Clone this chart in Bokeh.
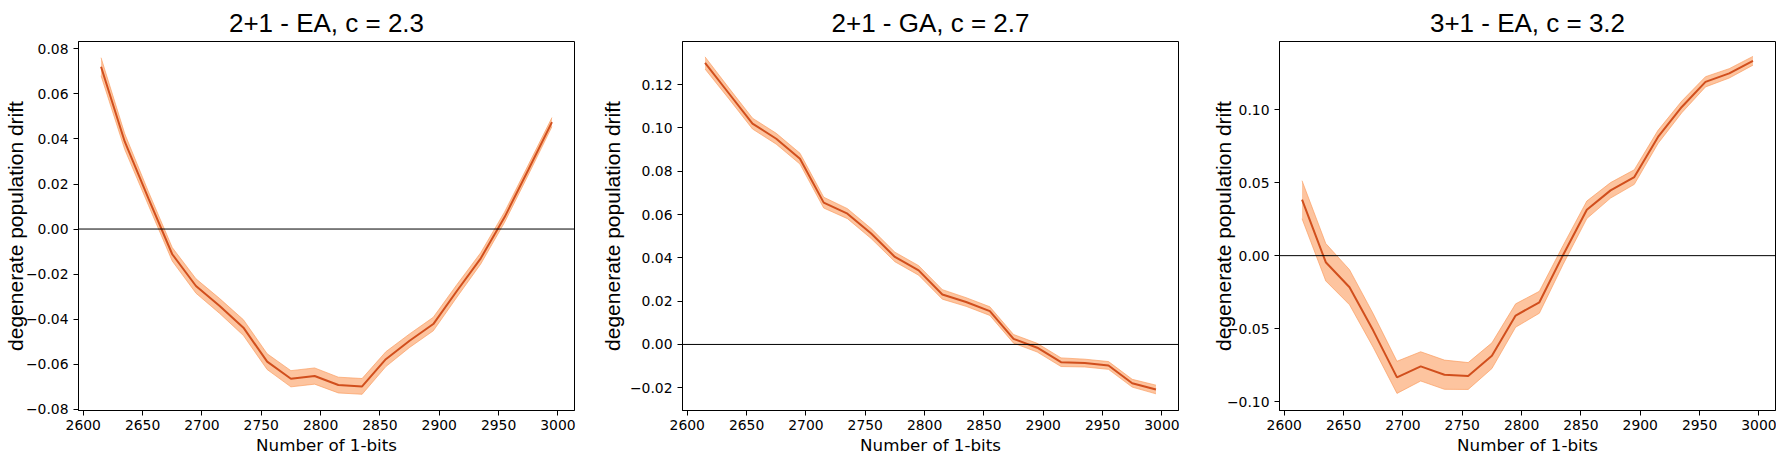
from bokeh.plotting import figure
from bokeh.models import Span, FixedTicker, Range1d
from bokeh.layouts import row
from bokeh.embed import file_html
from bokeh.resources import INLINE

# ---------------- data ----------------
x_bits = [2615, 2635, 2655, 2675, 2695, 2715, 2735, 2755, 2775, 2795,
          2815, 2835, 2855, 2875, 2895, 2915, 2935, 2955, 2975, 2995]

ea21_mean = [0.0721, 0.0388, 0.0135, -0.0112, -0.0253, -0.0342, -0.0438, -0.0589, -0.0665, -0.0653,
             -0.0693, -0.0699, -0.0578, -0.0496, -0.0422, -0.0274, -0.0130, 0.0052, 0.0262, 0.0475]
ea21_half = [0.0040, 0.0035, 0.0030, 0.0030, 0.0032, 0.0033, 0.0035, 0.0035, 0.0036, 0.0036,
             0.0035, 0.0035, 0.0033, 0.0030, 0.0030, 0.0028, 0.0025, 0.0023, 0.0022, 0.0020]

ga21_mean = [0.1300, 0.1160, 0.1020, 0.0950, 0.0858, 0.0655, 0.0604, 0.0512, 0.0404, 0.0342,
             0.0231, 0.0196, 0.0154, 0.0026, -0.0015, -0.0082, -0.0086, -0.0097, -0.0179, -0.0208]
ga21_half = [0.0028, 0.0025, 0.0025, 0.0025, 0.0025, 0.0025, 0.0023, 0.0023, 0.0022, 0.0022,
             0.0022, 0.0020, 0.0020, 0.0020, 0.0020, 0.0020, 0.0018, 0.0018, 0.0018, 0.0020]

ea31_mean = [0.0383, -0.0045, -0.0216, -0.0513, -0.0833, -0.0758, -0.0815, -0.0824, -0.0685, -0.0410,
             -0.0319, 0.0005, 0.0314, 0.0447, 0.0538, 0.0813, 0.1018, 0.1190, 0.1248, 0.1334]
ea31_half = [0.0130, 0.0128, 0.0120, 0.0115, 0.0110, 0.0100, 0.0100, 0.0092, 0.0088, 0.0080,
             0.0075, 0.0065, 0.0060, 0.0053, 0.0050, 0.0045, 0.0040, 0.0035, 0.0032, 0.0030]

titles = ["2+1 - EA, c = 2.3", "2+1 - GA, c = 2.7", "3+1 - EA, c = 3.2"]
x_ticks = [2600, 2650, 2700, 2750, 2800, 2850, 2900, 2950, 3000]
y_ticks_1 = [-0.08, -0.06, -0.04, -0.02, 0.00, 0.02, 0.04, 0.06, 0.08]
y_ticks_2 = [-0.02, 0.00, 0.02, 0.04, 0.06, 0.08, 0.10, 0.12]
y_ticks_3 = [-0.10, -0.05, 0.00, 0.05, 0.10]
x_label = "Number of 1-bits"
y_label = "degenerate population drift"

LINE = "#d14f1d"
BAND = "#fb9a5a"
TICK_FONT = "DejaVu Sans"
HEAD_FONT = "Liberation Sans"


def fmt(v):
    s = "%.2f" % v
    if v < 0:
        s = "\u2212" + s[1:]
    return s


def panel(title, mean, half, yr, yticks, left, right, lab_standoff):
    p = figure(frame_width=496, frame_height=369,
               min_border_left=left, min_border_right=right,
               min_border_top=41, min_border_bottom=44,
               x_range=Range1d(2596, 3014), y_range=Range1d(*yr),
               output_backend="svg", toolbar_location=None)
    p.title.text = title
    p.title.text_font = HEAD_FONT
    p.title.text_font_size = "26px"
    p.title.text_font_style = "normal"
    p.title.text_color = "black"
    p.title.align = "center"
    p.title.standoff = 8

    lower = [m - h for m, h in zip(mean, half)]
    upper = [m + h for m, h in zip(mean, half)]
    p.varea(x=x_bits, y1=lower, y2=upper, fill_color=BAND, fill_alpha=0.58)
    p.line(x=x_bits, y=lower, line_color=BAND, line_alpha=0.65, line_width=1)
    p.line(x=x_bits, y=upper, line_color=BAND, line_alpha=0.65, line_width=1)
    p.line(x=x_bits, y=mean, line_color=LINE, line_width=2)

    p.add_layout(Span(location=0, dimension="width", line_color="black", line_width=1))

    p.grid.visible = False
    p.outline_line_color = "black"
    p.outline_line_alpha = 1
    p.outline_line_width = 1

    p.xaxis.ticker = FixedTicker(ticks=x_ticks)
    p.yaxis.ticker = FixedTicker(ticks=yticks)
    p.yaxis.major_label_overrides = {t: fmt(t) for t in yticks}
    p.xaxis.axis_label = x_label
    p.yaxis.axis_label = y_label
    for ax in (p.xaxis, p.yaxis):
        ax.axis_line_color = "black"
        ax.major_tick_line_color = "black"
        ax.major_tick_out = 5
        ax.major_tick_in = 0
        ax.minor_tick_line_color = None
        ax.major_label_text_font = TICK_FONT
        ax.major_label_text_font_size = "13.9px"
        ax.major_label_text_color = "black"
        ax.axis_label_text_font_style = "normal"
        ax.axis_label_text_color = "black"
    p.xaxis.axis_label_text_font = TICK_FONT
    p.xaxis.axis_label_text_font_size = "16.7px"
    p.yaxis.axis_label_text_font = HEAD_FONT
    p.yaxis.axis_label_text_font_size = "21px"
    p.xaxis.major_label_standoff = 4
    p.xaxis.axis_label_standoff = 2
    p.yaxis.axis_label_standoff = lab_standoff
    return p


p1 = panel(titles[0], ea21_mean, ea21_half, (-0.0806, 0.0833), y_ticks_1, 73, 23, -4)
p2 = panel(titles[1], ga21_mean, ga21_half, (-0.0305, 0.1399), y_ticks_2, 72, 27, 3)
p3 = panel(titles[2], ea31_mean, ea31_half, (-0.106, 0.1466), y_ticks_3, 74, 2, -11)

layout = row(p1, p2, p3)
open("out.html", "w").write(file_html(layout, INLINE))
